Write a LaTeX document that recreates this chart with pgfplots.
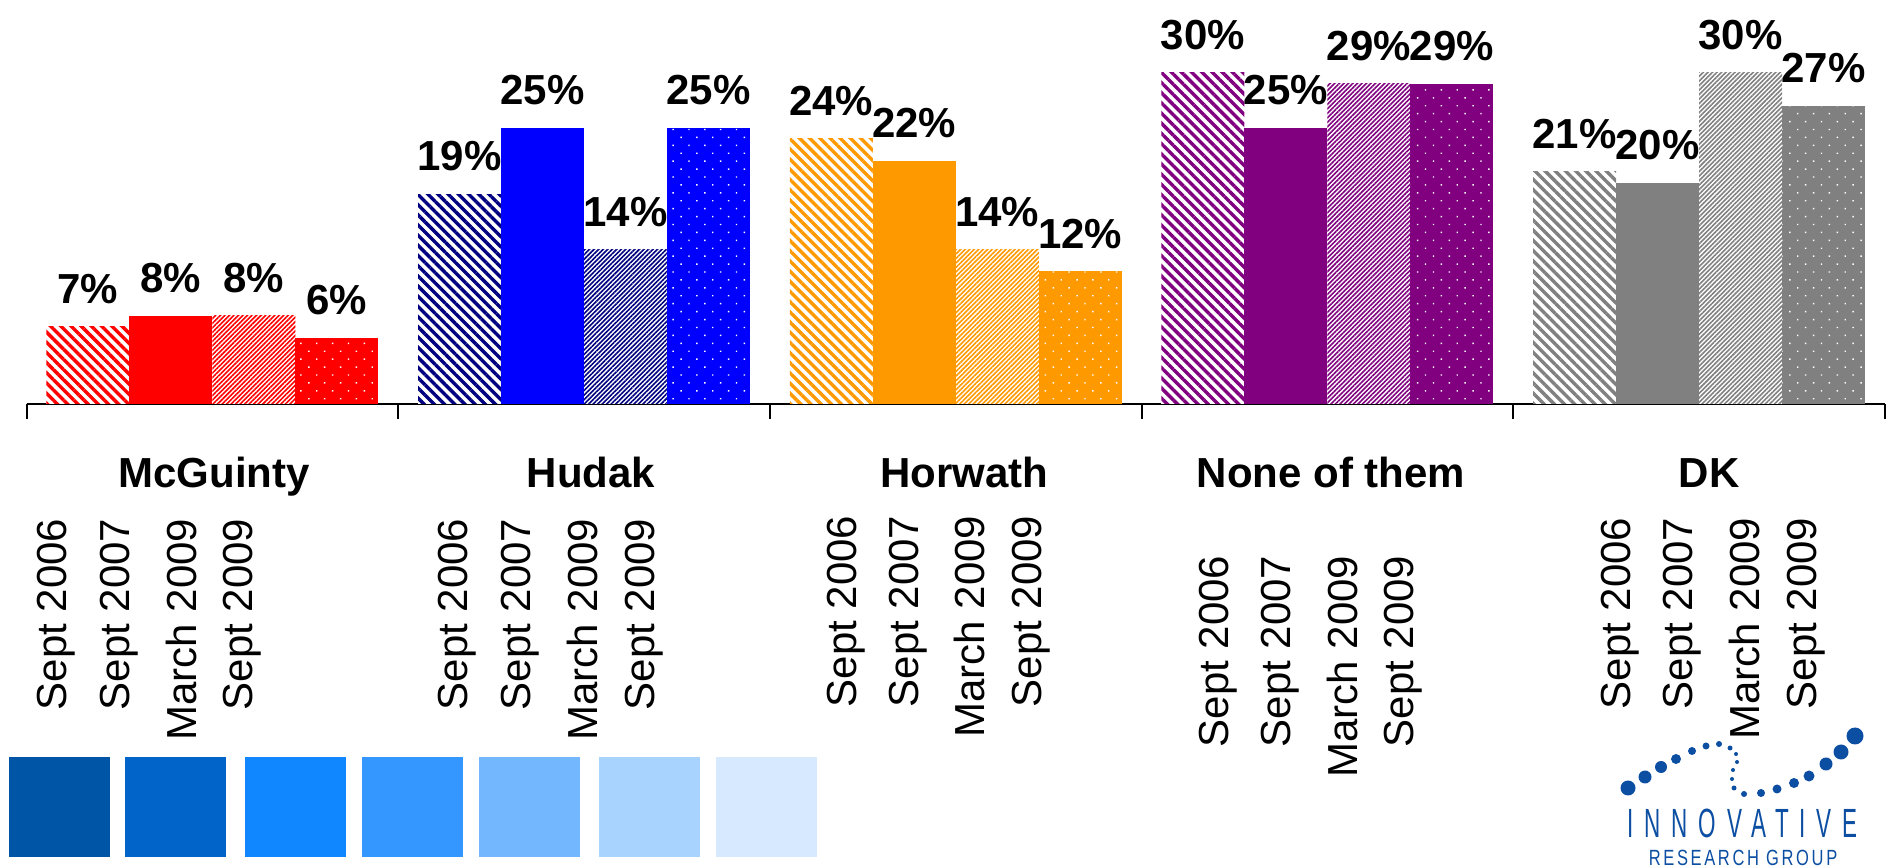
\documentclass[border=0pt]{standalone}
\usepackage{pgfplots}
\pgfplotsset{compat=1.18}
\usetikzlibrary{patterns.meta}
\usepackage{fontspec}
\setmainfont{Liberation Sans}
\newfontfamily\logofontA[LetterSpace=48]{Liberation Sans}
\newfontfamily\logofontB[LetterSpace=16]{Liberation Sans}
\definecolor{cRed}{HTML}{FF0000}
\definecolor{cNavy}{HTML}{000080}
\definecolor{cBlue}{HTML}{0000FF}
\definecolor{cOrange}{HTML}{FF9900}
\definecolor{cPurple}{HTML}{800080}
\definecolor{cGray}{HTML}{808080}
\definecolor{logo}{HTML}{0B4EA2}
\definecolor{sq1}{HTML}{0055A6}
\definecolor{sq2}{HTML}{0064C8}
\definecolor{sq3}{HTML}{1086FF}
\definecolor{sq4}{HTML}{3397FF}
\definecolor{sq5}{HTML}{73B8FF}
\definecolor{sq6}{HTML}{A8D3FF}
\definecolor{sq7}{HTML}{D6E9FF}
\pgfplotsset{
  sA/.style={fill=white, draw=none, bar shift=-31.125pt,
    postaction={pattern={Lines[angle=-45,distance=1.8pt,line width=0.85pt]}, pattern color=#1}},
  sB/.style={fill=#1, draw=none, bar shift=-10.375pt},
  sC/.style={fill=white, draw=none, bar shift=10.375pt,
    postaction={pattern={Lines[angle=45,distance=0.8pt,line width=0.4pt]}, pattern color=#1}},
  sD/.style={fill=#1, draw=none, bar shift=31.125pt,
    postaction={pattern={Dots[angle=45,distance=2.8pt,radius=0.25pt]}, pattern color=white}},
}
\begin{document}
\begin{tikzpicture}
\useasboundingbox (0,0) rectangle (473pt,216.5pt);
\begin{axis}[
  at={(6.625pt,115.5pt)}, anchor=south west,
  scale only axis, width=464.625pt, height=96.69pt,
  xmin=-0.5, xmax=4.5, ymin=0, ymax=35,
  axis x line*=bottom, axis y line=none,
  xtick={-0.5,0.5,1.5,2.5,3.5,4.5}, xticklabels={},
  tick align=outside, major tick length=3.75pt,
  axis line style={line width=0.5pt, black},
  xtick style={line width=0.5pt, black},
  ybar, bar width=20.75pt,
  nodes near coords={\pgfmathprintnumber{\pgfplotspointmeta}\%},
  nodes near coords style={font=\bfseries\fontsize{10.5}{12}\selectfont, anchor=south, inner sep=0pt, yshift=5.5pt, text=black},
  /pgf/number format/assume math mode=true,
  clip=false,
]
% McGuinty
\addplot[sA=cRed] coordinates {(0,7)};
\addplot[sB=cRed] coordinates {(0,8)};
\addplot[sC=cRed] coordinates {(0,8)};
\addplot[sD=cRed] coordinates {(0,6)};
% Hudak
\addplot[sA=cNavy] coordinates {(1,19)};
\addplot[sB=cBlue] coordinates {(1,25)};
\addplot[sC=cNavy] coordinates {(1,14)};
\addplot[sD=cBlue] coordinates {(1,25)};
% Horwath
\addplot[sA=cOrange] coordinates {(2,24)};
\addplot[sB=cOrange] coordinates {(2,22)};
\addplot[sC=cOrange] coordinates {(2,14)};
\addplot[sD=cOrange] coordinates {(2,12)};
% None of them
\addplot[sA=cPurple] coordinates {(3,30)};
\addplot[sB=cPurple] coordinates {(3,25)};
\addplot[sC=cPurple] coordinates {(3,29)};
\addplot[sD=cPurple] coordinates {(3,29)};
% DK
\addplot[sA=cGray] coordinates {(4,21)};
\addplot[sB=cGray] coordinates {(4,20)};
\addplot[sC=cGray] coordinates {(4,30)};
\addplot[sD=cGray] coordinates {(4,27)};
\end{axis}
\begin{scope}[yshift=216.5pt, x=0.25pt, y=-0.25pt]
  % group names
  \foreach \gx/\gn in {214/McGuinty, 591/Hudak, 964/Horwath, 1331/None of them, 1709/DK}
    \node[anchor=base, inner sep=0pt, font=\bfseries\fontsize{10.5}{12}\selectfont] at (\gx,488) {\gn};
  % date labels
  \foreach \dx/\dy/\dt in {56/518/Sept 2006, 119/518/Sept 2007, 181/518/March 2009, 242/518/Sept 2009,
      457/518/Sept 2006, 520/518/Sept 2007, 582/518/March 2009, 644/518/Sept 2009,
      846/515/Sept 2006, 908/515/Sept 2007, 969/515/March 2009, 1031/515/Sept 2009,
      1218/555/Sept 2006, 1280/555/Sept 2007, 1342/555/March 2009, 1403/555/Sept 2009,
      1620/517/Sept 2006, 1682/517/Sept 2007, 1744/517/March 2009, 1806/517/Sept 2009}
    \node[rotate=90, anchor=east, inner sep=0pt, font=\fontsize{10.5}{12}\selectfont] at (\dx,\dy) {\dt};
  % blue squares
  \foreach \sx/\sc in {9/sq1, 125/sq2, 245/sq3, 362/sq4, 479/sq5, 599/sq6, 716/sq7}
    \fill[\sc] (\sx,757) rectangle ++(101,100);
  % logo
  \foreach \lx/\ly/\lr in {1628/788/7.5, 1645/777/6.5, 1661/767/6, 1676/759/5, 1692/751/4, 1706/746/3.5,
      1719/744/3, 1730/748/2.5, 1736/754/2, 1737/762/2, 1733/770/2, 1732/779/2, 1734/788/2.5, 1744/794/3,
      1761/793/4, 1777/789/4.5, 1794/783/5, 1809/776/5.5, 1826/764/6.5, 1841/752/7.5, 1855/736/8.5}
    \fill[logo] (\lx,\ly) circle[radius=\lr*0.25pt];
  \node[anchor=base west, inner sep=0pt, text=logo] at (1627,837)
    {\scalebox{0.55}[1]{\logofontA\fontsize{10.2}{12}\selectfont INNOVATIVE}};
  \node[anchor=base west, inner sep=0pt, text=logo] at (1648,865)
    {\scalebox{0.75}[1]{\logofontB\fontsize{5.5}{7}\selectfont RESEARCH GROUP}};
\end{scope}
\end{tikzpicture}
\end{document}
